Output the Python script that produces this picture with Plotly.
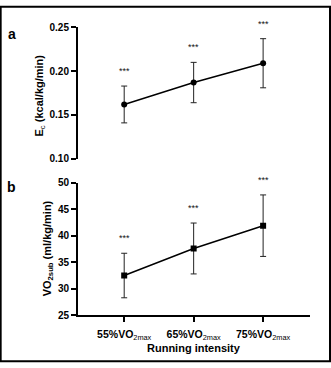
import plotly.graph_objects as go

# Running intensity levels (x categories)
intensity_labels = ["<b>55%VO</b><sub>2max</sub>", "<b>65%VO</b><sub>2max</sub>", "<b>75%VO</b><sub>2max</sub>"]
intensity_pos = [0, 1, 2]

# Panel a: energy cost of running (kcal/kg/min), mean and SD
ec_mean = [0.162, 0.187, 0.209]
ec_sd = [0.021, 0.023, 0.028]

# Panel b: submaximal oxygen uptake (ml/kg/min), mean and SD
vo2_mean = [32.5, 37.6, 41.9]
vo2_sd = [4.2, 4.8, 5.8]

sig_marks = ["***", "***", "***"]

W, H = 331, 368
FONT = "Arial, Liberation Sans, sans-serif"


def px_x(x):
    return x / W


def px_y(y):
    return (H - y) / H


fig = go.Figure()

err_style = dict(type="data", thickness=1, width=3, color="#222222")

fig.add_trace(go.Scatter(
    x=intensity_pos, y=ec_mean,
    error_y=dict(array=ec_sd, **err_style),
    mode="lines+markers",
    line=dict(color="black", width=1.5),
    marker=dict(symbol="circle", size=6, color="black"),
    xaxis="x", yaxis="y", showlegend=False,
))

fig.add_trace(go.Scatter(
    x=intensity_pos, y=vo2_mean,
    error_y=dict(array=vo2_sd, **err_style),
    mode="lines+markers",
    line=dict(color="black", width=1.5),
    marker=dict(symbol="square", size=6, color="black"),
    xaxis="x2", yaxis="y2", showlegend=False,
))

x_range = [-0.665, 2.675]
x_dom = [px_x(78), px_x(310)]

axis_common = dict(
    showgrid=False, zeroline=False,
    showline=True, linecolor="black", linewidth=2,
    ticks="outside", ticklen=5, tickwidth=2, tickcolor="black",
    tickfont=dict(family=FONT, size=10, color="black", weight="bold"),
)

fig.update_layout(
    width=W, height=H,
    margin=dict(l=0, r=0, t=0, b=0),
    paper_bgcolor="white", plot_bgcolor="white",
    xaxis=dict(domain=x_dom, range=x_range, visible=False, anchor="y"),
    yaxis=dict(domain=[px_y(158), px_y(22)], range=[0.10, 0.25],
               tickvals=[0.10, 0.15, 0.20, 0.25], tickformat=".2f",
               anchor="x", **axis_common),
    xaxis2=dict(domain=x_dom, range=x_range, anchor="y2",
                tickvals=intensity_pos, ticktext=intensity_labels,
                ticklabelstandoff=3,
                **{k: v for k, v in axis_common.items() if k != "tickfont"},
                tickfont=dict(family=FONT, size=10.5, color="black")),
    yaxis2=dict(domain=[px_y(319.7), px_y(182.7)], range=[25, 50],
                tickvals=[25, 30, 35, 40, 45, 50],
                anchor="x2", **axis_common),
)

annotations = []

# significance markers above each error bar
for xi, m, s, t in zip(intensity_pos, ec_mean, ec_sd, sig_marks):
    annotations.append(dict(x=xi, y=m + s, xref="x", yref="y", text=t,
                            showarrow=False, yanchor="bottom", yshift=8,
                            font=dict(family=FONT, size=9, color="#111111")))
for xi, m, s, t in zip(intensity_pos, vo2_mean, vo2_sd, sig_marks):
    annotations.append(dict(x=xi, y=m + s, xref="x2", yref="y2", text=t,
                            showarrow=False, yanchor="bottom", yshift=8,
                            font=dict(family=FONT, size=9, color="#111111")))

# axis titles
annotations.append(dict(x=px_x(40), y=px_y(92.5), xref="paper", yref="paper",
                        text="<b>E</b><sub>c</sub><b> (kcal/kg/min)</b>", textangle=-90,
                        showarrow=False, xanchor="center", yanchor="middle",
                        font=dict(family=FONT, size=11, color="black")))
annotations.append(dict(x=px_x(47.5), y=px_y(251), xref="paper", yref="paper",
                        text="<b>VO</b><sub><b>2sub</b></sub><b> (ml/kg/min)</b>", textangle=-90,
                        showarrow=False, xanchor="center", yanchor="middle",
                        font=dict(family=FONT, size=11, color="black")))
annotations.append(dict(x=px_x(193.5), y=px_y(354), xref="paper", yref="paper",
                        text="<b>Running intensity</b>",
                        showarrow=False, xanchor="center", yanchor="middle",
                        font=dict(family=FONT, size=11, color="black")))

# panel letters
annotations.append(dict(x=px_x(12), y=px_y(29), xref="paper", yref="paper",
                        text="<b>a</b>", showarrow=False,
                        xanchor="center", yanchor="middle",
                        font=dict(family=FONT, size=14, color="black")))
annotations.append(dict(x=px_x(11), y=px_y(187), xref="paper", yref="paper",
                        text="<b>b</b>", showarrow=False,
                        xanchor="center", yanchor="middle",
                        font=dict(family=FONT, size=14, color="black")))

fig.update_layout(annotations=annotations)

# outer frame
fig.add_shape(type="rect", xref="paper", yref="paper",
              x0=0.002, y0=0.002, x1=0.997, y1=0.998,
              line=dict(color="black", width=2), fillcolor="rgba(0,0,0,0)")

fig.write_html("out.html")
